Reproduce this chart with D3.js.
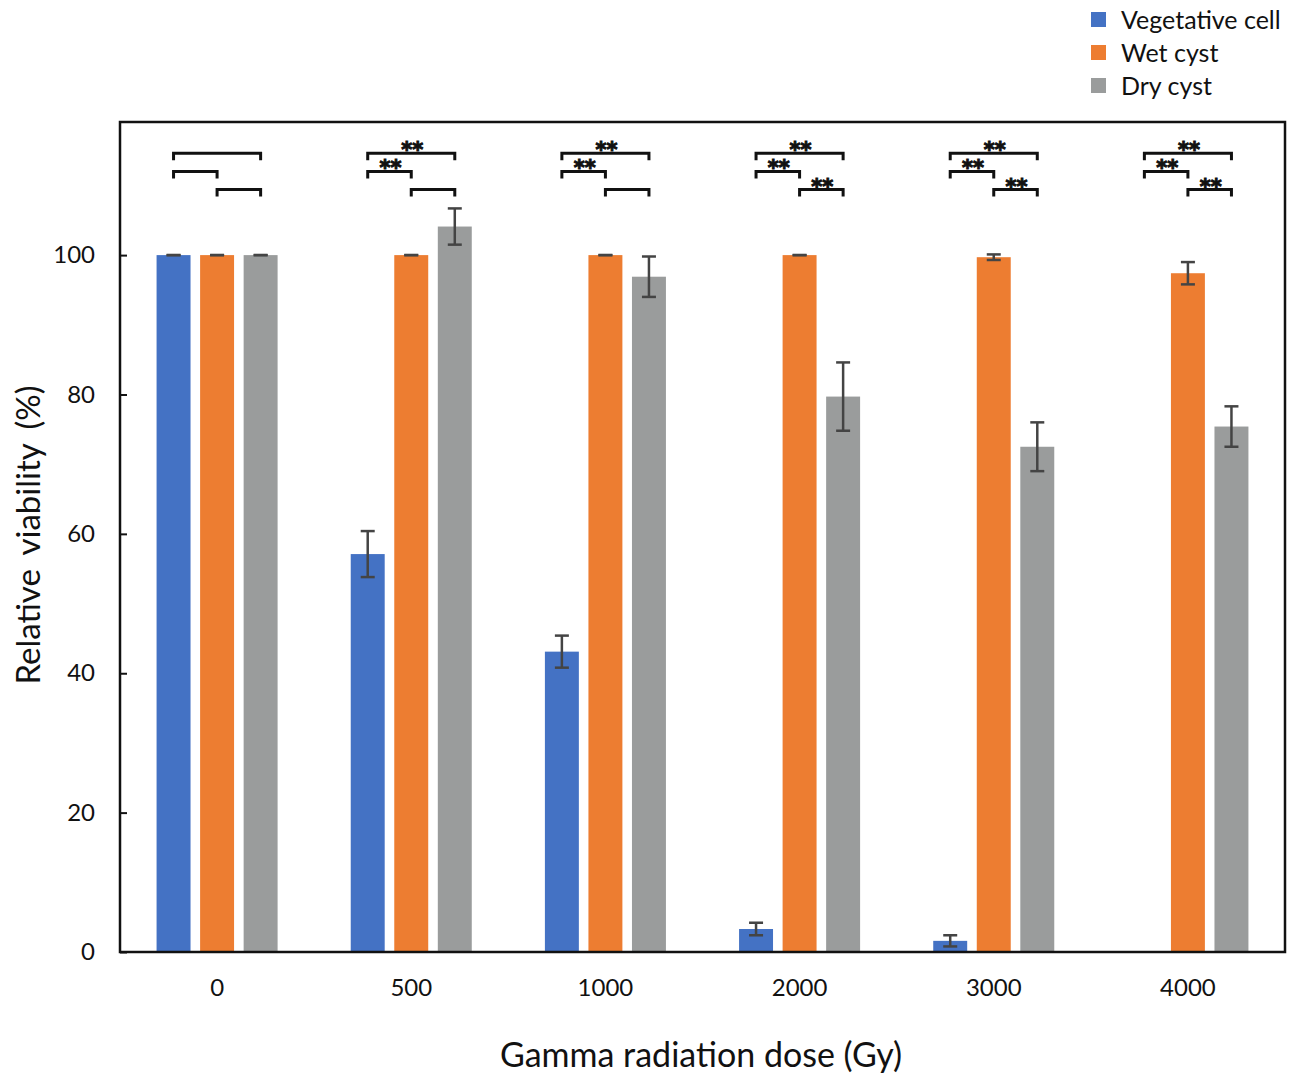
<!DOCTYPE html>
<html>
<head>
<meta charset="utf-8">
<script src="https://cdn.jsdelivr.net/npm/d3@7"></script>
<style>
  body { margin: 0; background: #fff; }
  text { font-family: Lato, "Open Sans", sans-serif; fill: #111; }
</style>
</head>
<body>
<div id="chart"></div>
<script>
var doses = ["0", "500", "1000", "2000", "3000", "4000"]
var series = ["Vegetative cell", "Wet cyst", "Dry cyst"]
var colors = ["#4472c4", "#ed7d31", "#9a9c9c"]

var vegetative = [100, 57.1, 43.1, 3.3, 1.6, 0]
var vegetativeErr = [0, 3.3, 2.3, 0.9, 0.8, 0]
var wetCyst = [100, 100, 100, 100, 99.7, 97.4]
var wetCystErr = [0, 0, 0, 0, 0.4, 1.6]
var dryCyst = [100, 104.1, 96.9, 79.7, 72.5, 75.4]
var dryCystErr = [0, 2.6, 2.9, 4.9, 3.5, 2.9]

var yTicks = [0, 20, 40, 60, 80, 100]

// significance brackets: [from series, to series, level]
var brackets = [
  [0, 2, 114.6], [0, 1, 112.0], [1, 2, 109.4]
]
var sigLabels = [
  ["", "", ""],
  ["**", "**", ""],
  ["**", "**", ""],
  ["**", "**", "**"],
  ["**", "**", "**"],
  ["**", "**", "**"]
]

var values = [vegetative, wetCyst, dryCyst]
var errors = [vegetativeErr, wetCystErr, dryCystErr]

var svgWidth = 1295
var svgHeight = 1075
var margin = {top: 122, right: 10, bottom: 123, left: 120}
var chartWidth = svgWidth - margin.left - margin.right
var chartHeight = svgHeight - margin.top - margin.bottom

var svg = d3.select("#chart")
  .append("svg")
  .attr("width", svgWidth)
  .attr("height", svgHeight)

var chartGroup = svg.append("g")
  .attr("transform", `translate(${margin.left},${margin.top})`)

var x0 = d3.scaleBand()
  .domain(doses)
  .range([0, chartWidth])
  .padding(0)

var x1 = d3.scaleBand()
  .domain(d3.range(series.length))
  .range([0, x0.bandwidth()])
  .paddingInner(0.22)
  .paddingOuter(0.84)

var y = d3.scaleLinear()
  .domain([0, 119.1])
  .range([chartHeight, 0])

// bars
var rows = []
doses.forEach(function(d, i) {
  series.forEach(function(s, j) {
    rows.push({dose: d, s: j, v: values[j][i], e: errors[j][i]})
  })
})

chartGroup.selectAll("rect.bar")
  .data(rows)
  .enter()
  .append("rect")
  .attr("class", "bar")
  .attr("x", d => x0(d.dose) + x1(d.s))
  .attr("y", d => y(d.v))
  .attr("width", x1.bandwidth())
  .attr("height", d => chartHeight - y(d.v))
  .attr("fill", d => colors[d.s])

// error bars
var errRows = rows.filter(d => d.v > 0)
var capW = 7
var errG = chartGroup.selectAll("g.err")
  .data(errRows)
  .enter()
  .append("g")
  .attr("class", "err")
  .attr("stroke", "#444")
  .attr("stroke-width", 2.5)

var cx = d => x0(d.dose) + x1(d.s) + x1.bandwidth() / 2
errG.append("line")
  .attr("x1", cx).attr("x2", cx)
  .attr("y1", d => y(d.v + d.e)).attr("y2", d => y(d.v - d.e))
errG.append("line")
  .attr("x1", d => cx(d) - capW).attr("x2", d => cx(d) + capW)
  .attr("y1", d => y(d.v + d.e)).attr("y2", d => y(d.v + d.e))
errG.append("line")
  .attr("x1", d => cx(d) - capW).attr("x2", d => cx(d) + capW)
  .attr("y1", d => y(d.v - d.e)).attr("y2", d => y(d.v - d.e))

// significance brackets
var sigRows = []
doses.forEach(function(d, i) {
  brackets.forEach(function(b, k) {
    sigRows.push({dose: d, a: b[0], b: b[1], lvl: b[2], label: sigLabels[i][k]})
  })
})
var bx = (dose, s) => x0(dose) + x1(s) + x1.bandwidth() / 2

chartGroup.selectAll("path.bracket")
  .data(sigRows)
  .enter()
  .append("path")
  .attr("class", "bracket")
  .attr("fill", "none")
  .attr("stroke", "#111")
  .attr("stroke-width", 3)
  .attr("d", function(d) {
    var xa = bx(d.dose, d.a), xb = bx(d.dose, d.b), yy = y(d.lvl)
    return `M${xa},${yy + 7}V${yy}H${xb}V${yy + 7}`
  })

chartGroup.selectAll("text.sig")
  .data(sigRows.filter(d => d.label))
  .enter()
  .append("text")
  .attr("class", "sig")
  .attr("x", d => (bx(d.dose, d.a) + bx(d.dose, d.b)) / 2 + 1)
  .attr("y", d => y(d.lvl) + 4)
  .attr("text-anchor", "middle")
  .style("font-family", "'DejaVu Sans', sans-serif")
  .attr("font-size", "21px")
  .attr("font-weight", "bold")
  .attr("stroke", "#111")
  .attr("stroke-width", 1)
  .text(d => d.label)

// axes
var leftAxis = d3.axisLeft(y)
  .tickValues(yTicks)
  .tickSize(-7)
  .tickPadding(25)
var bottomAxis = d3.axisBottom(x0)
  .tickSize(0)
  .tickPadding(27)

var yAxis = chartGroup.append("g").call(leftAxis)
var xAxis = chartGroup.append("g")
  .attr("transform", `translate(0,${chartHeight})`)
  .call(bottomAxis)

;[yAxis, xAxis].forEach(function(a) {
  a.select(".domain").remove()
  a.selectAll("line").attr("stroke", "#111").attr("stroke-width", 2)
  a.selectAll("text")
    .attr("font-size", "24px")
    .attr("font-family", "Lato, 'Open Sans', sans-serif")
    .attr("fill", "#111")
})

// frame
chartGroup.append("rect")
  .attr("x", 0).attr("y", 0)
  .attr("width", chartWidth).attr("height", chartHeight)
  .attr("fill", "none")
  .attr("stroke", "#111")
  .attr("stroke-width", 2.5)

// axis titles
svg.append("text")
  .attr("x", 701)
  .attr("y", 1067)
  .attr("text-anchor", "middle")
  .attr("font-size", "34px")
  .text("Gamma radiation dose (Gy)")

svg.append("text")
  .attr("transform", `translate(40,${535}) rotate(-90)`)
  .attr("text-anchor", "middle")
  .attr("font-size", "33px")
  .attr("word-spacing", "6px")
  .text("Relative viability (%)")

// legend
var legend = svg.append("g")
  .attr("transform", "translate(1091,12)")
var legendItem = legend.selectAll("g")
  .data(series)
  .enter()
  .append("g")
  .attr("transform", (d, i) => `translate(0,${i * 33})`)
legendItem.append("rect")
  .attr("width", 15).attr("height", 15)
  .attr("fill", (d, i) => colors[i])
legendItem.append("text")
  .attr("x", 30)
  .attr("y", 17)
  .attr("font-size", "25px")
  .text(d => d)
</script>
</body>
</html>
